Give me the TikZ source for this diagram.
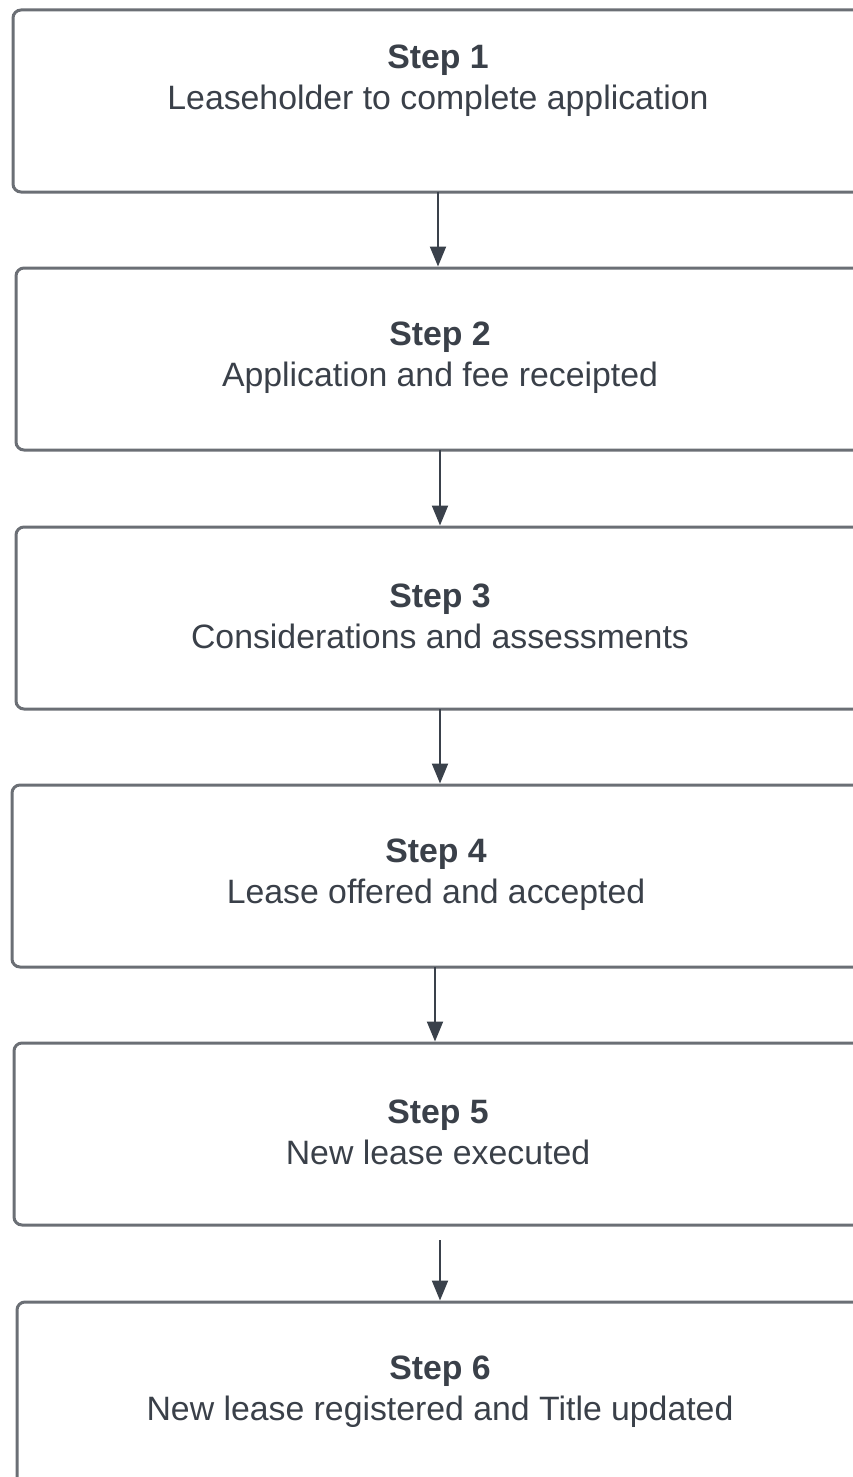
\documentclass[tikz,border=0pt]{standalone}
\usepackage{fontspec}
\setmainfont{Liberation Sans}
\usetikzlibrary{arrows.meta}
\definecolor{boxline}{HTML}{6B6F75}
\definecolor{txt}{HTML}{3A4049}
\definecolor{arr}{HTML}{3A414B}
\tikzset{
  stepbox/.style={draw=boxline, line width=3pt, rounded corners=8pt, minimum width=850pt, minimum height=182pt, inner sep=0pt, fill=white},
  steptext/.style={text=txt, align=center, font=\fontsize{33.8}{41}\selectfont, inner sep=0pt},
  flow/.style={draw=arr, line width=2pt, -{Triangle[width=16pt,length=20pt]}}
}
\begin{document}
\begin{tikzpicture}[x=1pt,y=-1pt]
\useasboundingbox (0,0) rectangle (853,1477);
\node[stepbox] (B1) at (438,101) {};
\node[stepbox] (B2) at (441,359) {};
\node[stepbox] (B3) at (441,618) {};
\node[stepbox] (B4) at (437,876) {};
\node[stepbox] (B5) at (439,1134) {};
\node[stepbox] (B6) at (442,1393) {};
\node[steptext] (T1) at (438,81) {\textbf{Step 1}\\Leaseholder to complete application};
\node[steptext] (T2) at (440,358) {\textbf{Step 2}\\Application and fee receipted};
\node[steptext] (T3) at (440,616) {\textbf{Step 3}\\Considerations and assessments};
\node[steptext] (T4) at (436,874.5) {\textbf{Step 4}\\Lease offered and accepted};
\node[steptext] (T5) at (438,1132.5) {\textbf{Step 5}\\New lease executed};
\node[steptext] (T6) at (440,1391.5) {\textbf{Step 6}\\New lease registered and Title updated};
\coordinate (c1) at (438,192);
\coordinate (c2) at (440,450);
\coordinate (c3) at (440,709);
\coordinate (c4) at (435,967);
\coordinate (c5) at (440,1240);
\draw[flow] (c1) -- (c1 |- B2.north);
\draw[flow] (c2) -- (c2 |- B3.north);
\draw[flow] (c3) -- (c3 |- B4.north);
\draw[flow] (c4) -- (c4 |- B5.north);
\draw[flow] (c5) -- (c5 |- B6.north);
\end{tikzpicture}
\end{document}
